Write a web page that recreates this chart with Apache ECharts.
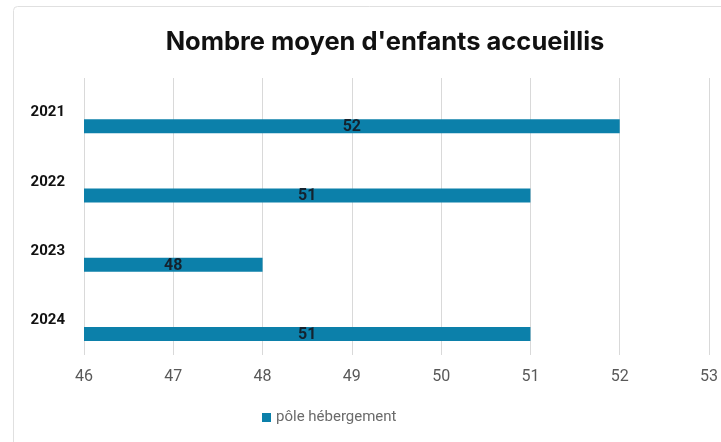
<!DOCTYPE html>
<html>
<head>
<meta charset="utf-8">
<script src="https://cdn.jsdelivr.net/npm/echarts@6/dist/echarts.min.js"></script>
<style>
    html, body { margin: 0; padding: 0; background: #fff; }
    #chart { width: 721px; height: 442px; }
</style>
</head>
<body>
<div id="chart"></div>
<script>
// données
const annees = ['2021', '2022', '2023', '2024']
const valeurs = [52, 51, 48, 51]
const vide = ['-', '-', '-', '-']
const nomSerie = 'pôle hébergement'
const titre = "Nombre moyen d'enfants accueillis"

const couleurBarre = '#0c80aa'

let myChart = echarts.init(document.getElementById('chart'))
let option = {
    animation: false,
    backgroundColor: '#ffffff',
    title: {
        text: titre,
        left: 380,
        top: 24,
        textAlign: 'center',
        textStyle: {
            fontFamily: 'Inter',
            fontWeight: 'bold',
            fontSize: 25.5,
            color: '#111'
        }
    },
    legend: {
        data: [nomSerie],
        left: 257,
        top: 405,
        itemWidth: 9,
        itemHeight: 9,
        itemGap: 4,
        icon: 'rect',
        textStyle: {
            fontFamily: 'Roboto',
            fontSize: 15,
            color: '#6b6b6b'
        }
    },
    grid: {
        left: 84,
        right: 7,
        top: 78,
        bottom: 87
    },
    xAxis: {
        type: 'value',
        min: 46,
        max: 53,
        interval: 1,
        axisLine: { show: false },
        axisTick: { show: false },
        splitLine: { lineStyle: { color: '#d9d9d9', width: 1 } },
        axisLabel: {
            margin: 14,
            fontFamily: 'Roboto',
            fontSize: 16,
            color: '#595959'
        }
    },
    yAxis: {
        type: 'category',
        data: annees,
        inverse: true,
        axisLine: { show: false },
        axisTick: { show: false },
        axisLabel: {
            margin: 19,
            fontFamily: 'Roboto',
            fontWeight: 'bold',
            fontSize: 15,
            color: '#111'
        }
    },
    series: [
        {
            // série vide pour décaler la barre sous le libellé
            name: 'vide',
            type: 'bar',
            data: vide,
            barWidth: 14,
            barGap: '93%',
            itemStyle: { color: 'transparent' },
            silent: true
        },
        {
            name: nomSerie,
            type: 'bar',
            data: valeurs,
            barWidth: 14,
            barGap: '93%',
            itemStyle: { color: couleurBarre },
            label: {
                show: true,
                position: 'inside',
                offset: [0, 1],
                fontFamily: 'Roboto',
                fontWeight: 'bold',
                fontSize: 16,
                color: '#14222e'
            }
        }
    ],
    graphic: [
        {
            type: 'rect',
            shape: { x: 13.5, y: 6.5, width: 720, height: 440, r: 4 },
            style: { fill: 'none', stroke: '#e0e0e0', lineWidth: 1 },
            silent: true
        }
    ]
}
myChart.setOption(option)
</script>
</body>
</html>
